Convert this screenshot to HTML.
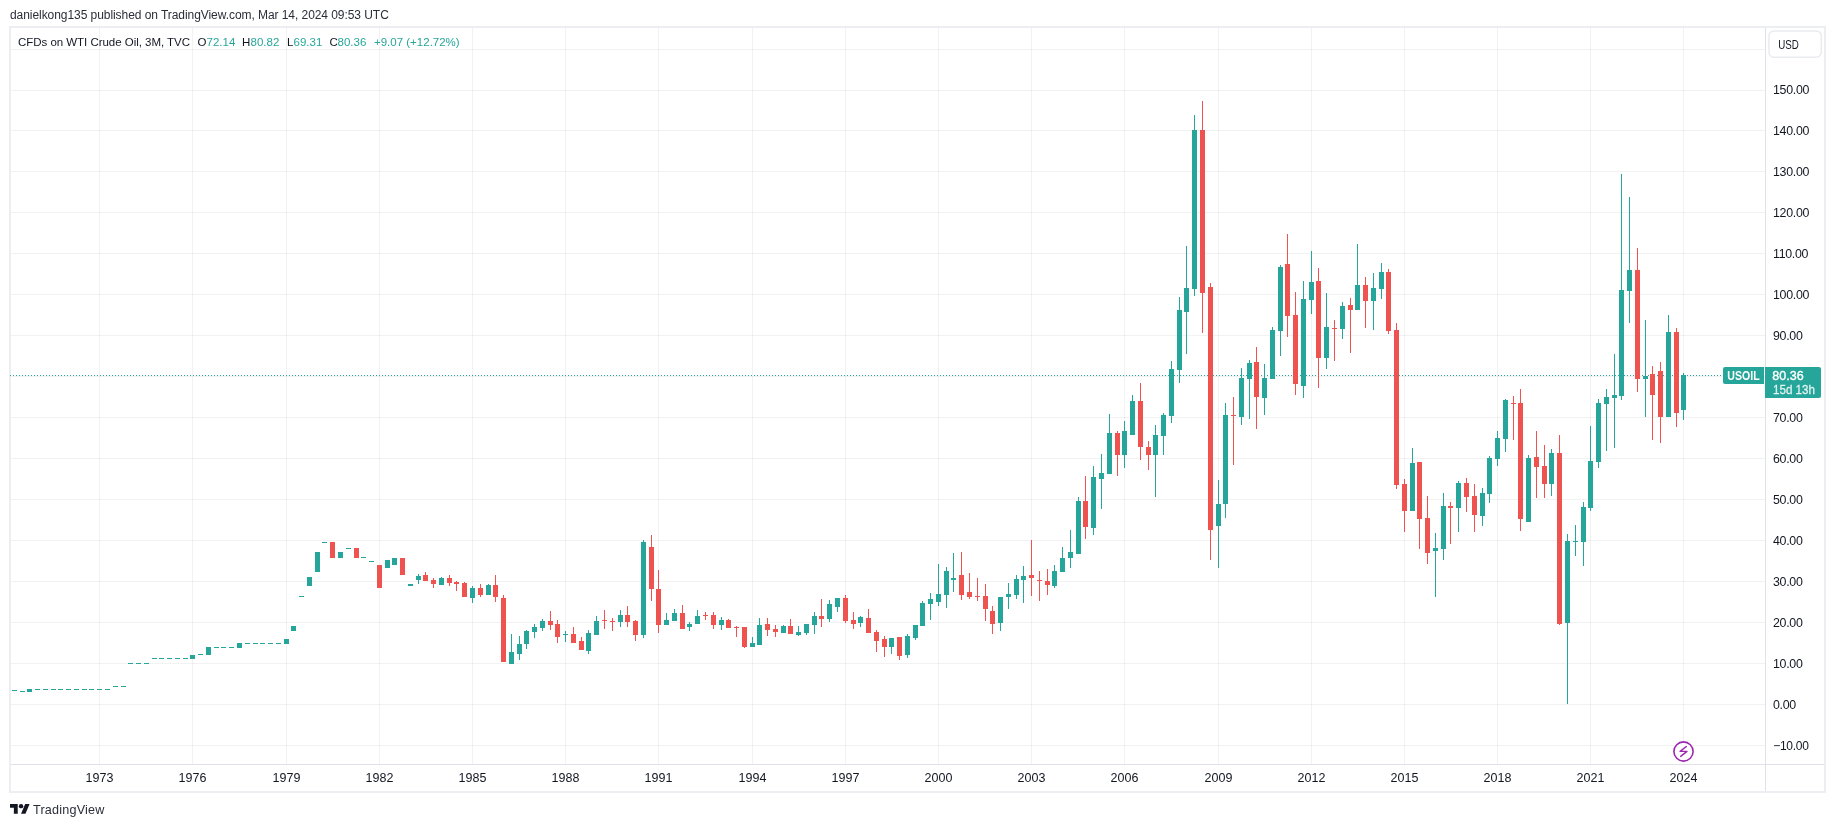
<!DOCTYPE html>
<html><head><meta charset="utf-8"><title>USOIL 3M chart</title>
<style>
html,body{margin:0;padding:0;background:#fff;}
body{width:1835px;height:827px;overflow:hidden;position:relative;font-family:"Liberation Sans",Arial,sans-serif;color:#131722;}
#hdr{position:absolute;left:10px;top:6px;font-size:12px;line-height:18px;color:#2a2e39;white-space:nowrap;letter-spacing:-0.06px;}
svg{position:absolute;left:0;top:0;}
#hdr,#tvt,svg{will-change:transform;}
#logo{position:absolute;left:10.1px;top:804px;}
#tvt{position:absolute;left:33px;top:802px;font-size:12.6px;letter-spacing:0.2px;line-height:16px;color:#2a2e39;white-space:nowrap;}
</style></head><body>
<div id="hdr">danielkong135 published on TradingView.com, Mar 14, 2024 09:53 UTC</div>
<svg width="1835" height="827" viewBox="0 0 1835 827" shape-rendering="crispEdges">
<rect x="10" y="27" width="1815" height="765" fill="none" stroke="#edeef2" stroke-width="2"/>
<path d="M11 49h1754v1h-1754zM11 90h1754v1h-1754zM11 130h1754v1h-1754zM11 171h1754v1h-1754zM11 212h1754v1h-1754zM11 253h1754v1h-1754zM11 294h1754v1h-1754zM11 335h1754v1h-1754zM11 376h1754v1h-1754zM11 417h1754v1h-1754zM11 458h1754v1h-1754zM11 499h1754v1h-1754zM11 540h1754v1h-1754zM11 581h1754v1h-1754zM11 622h1754v1h-1754zM11 663h1754v1h-1754zM11 704h1754v1h-1754zM11 745h1754v1h-1754z" fill="#2a3833" fill-opacity="0.066"/>
<path d="M99 28h1v736h-1zM192 28h1v736h-1zM286 28h1v736h-1zM379 28h1v736h-1zM472 28h1v736h-1zM565 28h1v736h-1zM658 28h1v736h-1zM752 28h1v736h-1zM845 28h1v736h-1zM938 28h1v736h-1zM1031 28h1v736h-1zM1124 28h1v736h-1zM1218 28h1v736h-1zM1311 28h1v736h-1zM1404 28h1v736h-1zM1497 28h1v736h-1zM1590 28h1v736h-1zM1683 28h1v736h-1z" fill="#2a3833" fill-opacity="0.066"/>
<path d="M1765 28h1v763h-1z" fill="#e1e2e8"/>
<path d="M11 764h1813v1h-1813z" fill="#e1e2e8"/>
<path d="M10 375h1v1h-1zM13 375h1v1h-1zM16 375h1v1h-1zM19 375h1v1h-1zM22 375h1v1h-1zM25 375h1v1h-1zM28 375h1v1h-1zM31 375h1v1h-1zM34 375h1v1h-1zM37 375h1v1h-1zM40 375h1v1h-1zM43 375h1v1h-1zM46 375h1v1h-1zM49 375h1v1h-1zM52 375h1v1h-1zM55 375h1v1h-1zM58 375h1v1h-1zM61 375h1v1h-1zM64 375h1v1h-1zM67 375h1v1h-1zM70 375h1v1h-1zM73 375h1v1h-1zM76 375h1v1h-1zM79 375h1v1h-1zM82 375h1v1h-1zM85 375h1v1h-1zM88 375h1v1h-1zM91 375h1v1h-1zM94 375h1v1h-1zM97 375h1v1h-1zM100 375h1v1h-1zM103 375h1v1h-1zM106 375h1v1h-1zM109 375h1v1h-1zM112 375h1v1h-1zM115 375h1v1h-1zM118 375h1v1h-1zM121 375h1v1h-1zM124 375h1v1h-1zM127 375h1v1h-1zM130 375h1v1h-1zM133 375h1v1h-1zM136 375h1v1h-1zM139 375h1v1h-1zM142 375h1v1h-1zM145 375h1v1h-1zM148 375h1v1h-1zM151 375h1v1h-1zM154 375h1v1h-1zM157 375h1v1h-1zM160 375h1v1h-1zM163 375h1v1h-1zM166 375h1v1h-1zM169 375h1v1h-1zM172 375h1v1h-1zM175 375h1v1h-1zM178 375h1v1h-1zM181 375h1v1h-1zM184 375h1v1h-1zM187 375h1v1h-1zM190 375h1v1h-1zM193 375h1v1h-1zM196 375h1v1h-1zM199 375h1v1h-1zM202 375h1v1h-1zM205 375h1v1h-1zM208 375h1v1h-1zM211 375h1v1h-1zM214 375h1v1h-1zM217 375h1v1h-1zM220 375h1v1h-1zM223 375h1v1h-1zM226 375h1v1h-1zM229 375h1v1h-1zM232 375h1v1h-1zM235 375h1v1h-1zM238 375h1v1h-1zM241 375h1v1h-1zM244 375h1v1h-1zM247 375h1v1h-1zM250 375h1v1h-1zM253 375h1v1h-1zM256 375h1v1h-1zM259 375h1v1h-1zM262 375h1v1h-1zM265 375h1v1h-1zM268 375h1v1h-1zM271 375h1v1h-1zM274 375h1v1h-1zM277 375h1v1h-1zM280 375h1v1h-1zM283 375h1v1h-1zM286 375h1v1h-1zM289 375h1v1h-1zM292 375h1v1h-1zM295 375h1v1h-1zM298 375h1v1h-1zM301 375h1v1h-1zM304 375h1v1h-1zM307 375h1v1h-1zM310 375h1v1h-1zM313 375h1v1h-1zM316 375h1v1h-1zM319 375h1v1h-1zM322 375h1v1h-1zM325 375h1v1h-1zM328 375h1v1h-1zM331 375h1v1h-1zM334 375h1v1h-1zM337 375h1v1h-1zM340 375h1v1h-1zM343 375h1v1h-1zM346 375h1v1h-1zM349 375h1v1h-1zM352 375h1v1h-1zM355 375h1v1h-1zM358 375h1v1h-1zM361 375h1v1h-1zM364 375h1v1h-1zM367 375h1v1h-1zM370 375h1v1h-1zM373 375h1v1h-1zM376 375h1v1h-1zM379 375h1v1h-1zM382 375h1v1h-1zM385 375h1v1h-1zM388 375h1v1h-1zM391 375h1v1h-1zM394 375h1v1h-1zM397 375h1v1h-1zM400 375h1v1h-1zM403 375h1v1h-1zM406 375h1v1h-1zM409 375h1v1h-1zM412 375h1v1h-1zM415 375h1v1h-1zM418 375h1v1h-1zM421 375h1v1h-1zM424 375h1v1h-1zM427 375h1v1h-1zM430 375h1v1h-1zM433 375h1v1h-1zM436 375h1v1h-1zM439 375h1v1h-1zM442 375h1v1h-1zM445 375h1v1h-1zM448 375h1v1h-1zM451 375h1v1h-1zM454 375h1v1h-1zM457 375h1v1h-1zM460 375h1v1h-1zM463 375h1v1h-1zM466 375h1v1h-1zM469 375h1v1h-1zM472 375h1v1h-1zM475 375h1v1h-1zM478 375h1v1h-1zM481 375h1v1h-1zM484 375h1v1h-1zM487 375h1v1h-1zM490 375h1v1h-1zM493 375h1v1h-1zM496 375h1v1h-1zM499 375h1v1h-1zM502 375h1v1h-1zM505 375h1v1h-1zM508 375h1v1h-1zM511 375h1v1h-1zM514 375h1v1h-1zM517 375h1v1h-1zM520 375h1v1h-1zM523 375h1v1h-1zM526 375h1v1h-1zM529 375h1v1h-1zM532 375h1v1h-1zM535 375h1v1h-1zM538 375h1v1h-1zM541 375h1v1h-1zM544 375h1v1h-1zM547 375h1v1h-1zM550 375h1v1h-1zM553 375h1v1h-1zM556 375h1v1h-1zM559 375h1v1h-1zM562 375h1v1h-1zM565 375h1v1h-1zM568 375h1v1h-1zM571 375h1v1h-1zM574 375h1v1h-1zM577 375h1v1h-1zM580 375h1v1h-1zM583 375h1v1h-1zM586 375h1v1h-1zM589 375h1v1h-1zM592 375h1v1h-1zM595 375h1v1h-1zM598 375h1v1h-1zM601 375h1v1h-1zM604 375h1v1h-1zM607 375h1v1h-1zM610 375h1v1h-1zM613 375h1v1h-1zM616 375h1v1h-1zM619 375h1v1h-1zM622 375h1v1h-1zM625 375h1v1h-1zM628 375h1v1h-1zM631 375h1v1h-1zM634 375h1v1h-1zM637 375h1v1h-1zM640 375h1v1h-1zM643 375h1v1h-1zM646 375h1v1h-1zM649 375h1v1h-1zM652 375h1v1h-1zM655 375h1v1h-1zM658 375h1v1h-1zM661 375h1v1h-1zM664 375h1v1h-1zM667 375h1v1h-1zM670 375h1v1h-1zM673 375h1v1h-1zM676 375h1v1h-1zM679 375h1v1h-1zM682 375h1v1h-1zM685 375h1v1h-1zM688 375h1v1h-1zM691 375h1v1h-1zM694 375h1v1h-1zM697 375h1v1h-1zM700 375h1v1h-1zM703 375h1v1h-1zM706 375h1v1h-1zM709 375h1v1h-1zM712 375h1v1h-1zM715 375h1v1h-1zM718 375h1v1h-1zM721 375h1v1h-1zM724 375h1v1h-1zM727 375h1v1h-1zM730 375h1v1h-1zM733 375h1v1h-1zM736 375h1v1h-1zM739 375h1v1h-1zM742 375h1v1h-1zM745 375h1v1h-1zM748 375h1v1h-1zM751 375h1v1h-1zM754 375h1v1h-1zM757 375h1v1h-1zM760 375h1v1h-1zM763 375h1v1h-1zM766 375h1v1h-1zM769 375h1v1h-1zM772 375h1v1h-1zM775 375h1v1h-1zM778 375h1v1h-1zM781 375h1v1h-1zM784 375h1v1h-1zM787 375h1v1h-1zM790 375h1v1h-1zM793 375h1v1h-1zM796 375h1v1h-1zM799 375h1v1h-1zM802 375h1v1h-1zM805 375h1v1h-1zM808 375h1v1h-1zM811 375h1v1h-1zM814 375h1v1h-1zM817 375h1v1h-1zM820 375h1v1h-1zM823 375h1v1h-1zM826 375h1v1h-1zM829 375h1v1h-1zM832 375h1v1h-1zM835 375h1v1h-1zM838 375h1v1h-1zM841 375h1v1h-1zM844 375h1v1h-1zM847 375h1v1h-1zM850 375h1v1h-1zM853 375h1v1h-1zM856 375h1v1h-1zM859 375h1v1h-1zM862 375h1v1h-1zM865 375h1v1h-1zM868 375h1v1h-1zM871 375h1v1h-1zM874 375h1v1h-1zM877 375h1v1h-1zM880 375h1v1h-1zM883 375h1v1h-1zM886 375h1v1h-1zM889 375h1v1h-1zM892 375h1v1h-1zM895 375h1v1h-1zM898 375h1v1h-1zM901 375h1v1h-1zM904 375h1v1h-1zM907 375h1v1h-1zM910 375h1v1h-1zM913 375h1v1h-1zM916 375h1v1h-1zM919 375h1v1h-1zM922 375h1v1h-1zM925 375h1v1h-1zM928 375h1v1h-1zM931 375h1v1h-1zM934 375h1v1h-1zM937 375h1v1h-1zM940 375h1v1h-1zM943 375h1v1h-1zM946 375h1v1h-1zM949 375h1v1h-1zM952 375h1v1h-1zM955 375h1v1h-1zM958 375h1v1h-1zM961 375h1v1h-1zM964 375h1v1h-1zM967 375h1v1h-1zM970 375h1v1h-1zM973 375h1v1h-1zM976 375h1v1h-1zM979 375h1v1h-1zM982 375h1v1h-1zM985 375h1v1h-1zM988 375h1v1h-1zM991 375h1v1h-1zM994 375h1v1h-1zM997 375h1v1h-1zM1000 375h1v1h-1zM1003 375h1v1h-1zM1006 375h1v1h-1zM1009 375h1v1h-1zM1012 375h1v1h-1zM1015 375h1v1h-1zM1018 375h1v1h-1zM1021 375h1v1h-1zM1024 375h1v1h-1zM1027 375h1v1h-1zM1030 375h1v1h-1zM1033 375h1v1h-1zM1036 375h1v1h-1zM1039 375h1v1h-1zM1042 375h1v1h-1zM1045 375h1v1h-1zM1048 375h1v1h-1zM1051 375h1v1h-1zM1054 375h1v1h-1zM1057 375h1v1h-1zM1060 375h1v1h-1zM1063 375h1v1h-1zM1066 375h1v1h-1zM1069 375h1v1h-1zM1072 375h1v1h-1zM1075 375h1v1h-1zM1078 375h1v1h-1zM1081 375h1v1h-1zM1084 375h1v1h-1zM1087 375h1v1h-1zM1090 375h1v1h-1zM1093 375h1v1h-1zM1096 375h1v1h-1zM1099 375h1v1h-1zM1102 375h1v1h-1zM1105 375h1v1h-1zM1108 375h1v1h-1zM1111 375h1v1h-1zM1114 375h1v1h-1zM1117 375h1v1h-1zM1120 375h1v1h-1zM1123 375h1v1h-1zM1126 375h1v1h-1zM1129 375h1v1h-1zM1132 375h1v1h-1zM1135 375h1v1h-1zM1138 375h1v1h-1zM1141 375h1v1h-1zM1144 375h1v1h-1zM1147 375h1v1h-1zM1150 375h1v1h-1zM1153 375h1v1h-1zM1156 375h1v1h-1zM1159 375h1v1h-1zM1162 375h1v1h-1zM1165 375h1v1h-1zM1168 375h1v1h-1zM1171 375h1v1h-1zM1174 375h1v1h-1zM1177 375h1v1h-1zM1180 375h1v1h-1zM1183 375h1v1h-1zM1186 375h1v1h-1zM1189 375h1v1h-1zM1192 375h1v1h-1zM1195 375h1v1h-1zM1198 375h1v1h-1zM1201 375h1v1h-1zM1204 375h1v1h-1zM1207 375h1v1h-1zM1210 375h1v1h-1zM1213 375h1v1h-1zM1216 375h1v1h-1zM1219 375h1v1h-1zM1222 375h1v1h-1zM1225 375h1v1h-1zM1228 375h1v1h-1zM1231 375h1v1h-1zM1234 375h1v1h-1zM1237 375h1v1h-1zM1240 375h1v1h-1zM1243 375h1v1h-1zM1246 375h1v1h-1zM1249 375h1v1h-1zM1252 375h1v1h-1zM1255 375h1v1h-1zM1258 375h1v1h-1zM1261 375h1v1h-1zM1264 375h1v1h-1zM1267 375h1v1h-1zM1270 375h1v1h-1zM1273 375h1v1h-1zM1276 375h1v1h-1zM1279 375h1v1h-1zM1282 375h1v1h-1zM1285 375h1v1h-1zM1288 375h1v1h-1zM1291 375h1v1h-1zM1294 375h1v1h-1zM1297 375h1v1h-1zM1300 375h1v1h-1zM1303 375h1v1h-1zM1306 375h1v1h-1zM1309 375h1v1h-1zM1312 375h1v1h-1zM1315 375h1v1h-1zM1318 375h1v1h-1zM1321 375h1v1h-1zM1324 375h1v1h-1zM1327 375h1v1h-1zM1330 375h1v1h-1zM1333 375h1v1h-1zM1336 375h1v1h-1zM1339 375h1v1h-1zM1342 375h1v1h-1zM1345 375h1v1h-1zM1348 375h1v1h-1zM1351 375h1v1h-1zM1354 375h1v1h-1zM1357 375h1v1h-1zM1360 375h1v1h-1zM1363 375h1v1h-1zM1366 375h1v1h-1zM1369 375h1v1h-1zM1372 375h1v1h-1zM1375 375h1v1h-1zM1378 375h1v1h-1zM1381 375h1v1h-1zM1384 375h1v1h-1zM1387 375h1v1h-1zM1390 375h1v1h-1zM1393 375h1v1h-1zM1396 375h1v1h-1zM1399 375h1v1h-1zM1402 375h1v1h-1zM1405 375h1v1h-1zM1408 375h1v1h-1zM1411 375h1v1h-1zM1414 375h1v1h-1zM1417 375h1v1h-1zM1420 375h1v1h-1zM1423 375h1v1h-1zM1426 375h1v1h-1zM1429 375h1v1h-1zM1432 375h1v1h-1zM1435 375h1v1h-1zM1438 375h1v1h-1zM1441 375h1v1h-1zM1444 375h1v1h-1zM1447 375h1v1h-1zM1450 375h1v1h-1zM1453 375h1v1h-1zM1456 375h1v1h-1zM1459 375h1v1h-1zM1462 375h1v1h-1zM1465 375h1v1h-1zM1468 375h1v1h-1zM1471 375h1v1h-1zM1474 375h1v1h-1zM1477 375h1v1h-1zM1480 375h1v1h-1zM1483 375h1v1h-1zM1486 375h1v1h-1zM1489 375h1v1h-1zM1492 375h1v1h-1zM1495 375h1v1h-1zM1498 375h1v1h-1zM1501 375h1v1h-1zM1504 375h1v1h-1zM1507 375h1v1h-1zM1510 375h1v1h-1zM1513 375h1v1h-1zM1516 375h1v1h-1zM1519 375h1v1h-1zM1522 375h1v1h-1zM1525 375h1v1h-1zM1528 375h1v1h-1zM1531 375h1v1h-1zM1534 375h1v1h-1zM1537 375h1v1h-1zM1540 375h1v1h-1zM1543 375h1v1h-1zM1546 375h1v1h-1zM1549 375h1v1h-1zM1552 375h1v1h-1zM1555 375h1v1h-1zM1558 375h1v1h-1zM1561 375h1v1h-1zM1564 375h1v1h-1zM1567 375h1v1h-1zM1570 375h1v1h-1zM1573 375h1v1h-1zM1576 375h1v1h-1zM1579 375h1v1h-1zM1582 375h1v1h-1zM1585 375h1v1h-1zM1588 375h1v1h-1zM1591 375h1v1h-1zM1594 375h1v1h-1zM1597 375h1v1h-1zM1600 375h1v1h-1zM1603 375h1v1h-1zM1606 375h1v1h-1zM1609 375h1v1h-1zM1612 375h1v1h-1zM1615 375h1v1h-1zM1618 375h1v1h-1zM1621 375h1v1h-1zM1624 375h1v1h-1zM1627 375h1v1h-1zM1630 375h1v1h-1zM1633 375h1v1h-1zM1636 375h1v1h-1zM1639 375h1v1h-1zM1642 375h1v1h-1zM1645 375h1v1h-1zM1648 375h1v1h-1zM1651 375h1v1h-1zM1654 375h1v1h-1zM1657 375h1v1h-1zM1660 375h1v1h-1zM1663 375h1v1h-1zM1666 375h1v1h-1zM1669 375h1v1h-1zM1672 375h1v1h-1zM1675 375h1v1h-1zM1678 375h1v1h-1zM1681 375h1v1h-1zM1684 375h1v1h-1zM1687 375h1v1h-1zM1690 375h1v1h-1zM1693 375h1v1h-1zM1696 375h1v1h-1zM1699 375h1v1h-1zM1702 375h1v1h-1zM1705 375h1v1h-1zM1708 375h1v1h-1zM1711 375h1v1h-1zM1714 375h1v1h-1zM1717 375h1v1h-1zM1720 375h1v1h-1z" fill="#26a69a"/>
<path d="M12 690h5v1h-5zM20 691h5v1h-5zM27 689h5v3h-5zM35 689h5v1h-5zM43 689h5v1h-5zM51 689h5v1h-5zM58 689h5v1h-5zM66 689h5v1h-5zM74 689h5v1h-5zM82 689h5v1h-5zM89 689h5v1h-5zM97 689h5v1h-5zM105 689h5v1h-5zM113 686h5v1h-5zM121 686h5v1h-5zM128 663h5v1h-5zM136 663h5v1h-5zM144 663h5v1h-5zM152 658h5v1h-5zM159 658h5v1h-5zM167 658h5v1h-5zM175 658h5v1h-5zM183 658h5v1h-5zM190 655h5v4h-5zM198 654h5v1h-5zM206 647h5v8h-5zM214 647h5v1h-5zM221 647h5v1h-5zM229 647h5v1h-5zM237 643h5v5h-5zM245 643h5v1h-5zM253 643h5v1h-5zM260 643h5v1h-5zM268 643h5v1h-5zM276 643h5v1h-5zM284 639h5v5h-5zM291 626h5v5h-5zM299 596h5v1h-5zM307 577h5v9h-5zM315 552h5v20h-5zM322 542h5v1h-5zM338 552h5v6h-5zM346 548h5v1h-5zM361 557h5v1h-5zM369 561h5v1h-5zM385 560h5v8h-5zM392 558h5v7h-5zM408 584h5v2h-5zM418 574h1v10h-1zM416 576h5v4h-5zM441 577h1v8h-1zM439 578h5v7h-5zM472 586h1v17h-1zM470 588h5v10h-5zM488 584h1v11h-1zM486 585h5v10h-5zM511 634h1v30h-1zM509 652h5v12h-5zM519 636h1v24h-1zM517 644h5v10h-5zM526 630h1v19h-1zM524 631h5v13h-5zM534 624h1v14h-1zM532 627h5v5h-5zM542 619h1v12h-1zM540 621h5v7h-5zM565 631h1v11h-1zM563 634h5v1h-5zM588 630h1v24h-1zM586 633h5v18h-5zM596 616h1v19h-1zM594 621h5v14h-5zM620 610h1v17h-1zM618 615h5v7h-5zM643 540h1v98h-1zM641 542h5v93h-5zM666 613h1v12h-1zM664 620h5v5h-5zM674 609h1v12h-1zM672 613h5v8h-5zM689 622h1v9h-1zM687 624h5v3h-5zM697 610h1v14h-1zM695 616h5v8h-5zM721 617h1v13h-1zM719 620h5v5h-5zM752 637h1v10h-1zM750 643h5v4h-5zM759 618h1v27h-1zM757 625h5v20h-5zM783 625h1v8h-1zM781 626h5v7h-5zM798 626h1v10h-1zM796 632h5v3h-5zM806 624h1v11h-1zM804 624h5v9h-5zM814 612h1v22h-1zM812 616h5v9h-5zM829 600h1v22h-1zM827 604h5v15h-5zM837 598h1v14h-1zM835 598h5v9h-5zM860 616h1v11h-1zM858 617h5v6h-5zM891 638h1v16h-1zM889 638h5v9h-5zM907 634h1v24h-1zM905 636h5v19h-5zM915 625h1v15h-1zM913 625h5v13h-5zM922 601h1v25h-1zM920 603h5v23h-5zM930 593h1v27h-1zM928 599h5v5h-5zM938 564h1v42h-1zM936 594h5v8h-5zM946 567h1v41h-1zM944 571h5v24h-5zM953 553h1v39h-1zM951 578h5v2h-5zM1000 597h1v34h-1zM998 597h5v26h-5zM1008 583h1v26h-1zM1006 594h5v3h-5zM1016 575h1v24h-1zM1014 579h5v16h-5zM1023 566h1v37h-1zM1021 576h5v4h-5zM1054 565h1v23h-1zM1052 571h5v15h-5zM1062 547h1v25h-1zM1060 558h5v14h-5zM1070 530h1v38h-1zM1068 552h5v6h-5zM1078 497h1v57h-1zM1076 501h5v53h-5zM1093 466h1v69h-1zM1091 477h5v51h-5zM1101 454h1v55h-1zM1099 473h5v6h-5zM1109 414h1v60h-1zM1107 433h5v41h-5zM1124 421h1v47h-1zM1122 431h5v24h-5zM1132 395h1v40h-1zM1130 401h5v34h-5zM1155 425h1v72h-1zM1153 435h5v20h-5zM1163 413h1v42h-1zM1161 415h5v21h-5zM1171 361h1v62h-1zM1169 369h5v47h-5zM1179 297h1v86h-1zM1177 310h5v60h-5zM1186 246h1v108h-1zM1184 288h5v24h-5zM1194 115h1v181h-1zM1192 130h5v159h-5zM1218 480h1v88h-1zM1216 504h5v22h-5zM1225 403h1v115h-1zM1223 415h5v89h-5zM1241 368h1v57h-1zM1239 378h5v39h-5zM1249 360h1v59h-1zM1247 363h5v16h-5zM1264 364h1v51h-1zM1262 378h5v20h-5zM1272 327h1v52h-1zM1270 330h5v49h-5zM1280 265h1v91h-1zM1278 267h5v64h-5zM1303 281h1v117h-1zM1301 299h5v87h-5zM1311 251h1v63h-1zM1309 282h5v18h-5zM1326 293h1v76h-1zM1324 327h5v31h-5zM1342 302h1v37h-1zM1340 306h5v23h-5zM1357 244h1v66h-1zM1355 285h5v25h-5zM1373 273h1v57h-1zM1371 288h5v13h-5zM1381 263h1v36h-1zM1379 272h5v17h-5zM1412 448h1v63h-1zM1410 463h5v48h-5zM1435 533h1v64h-1zM1433 548h5v3h-5zM1443 493h1v67h-1zM1441 506h5v43h-5zM1458 481h1v51h-1zM1456 483h5v25h-5zM1482 488h1v38h-1zM1480 493h5v23h-5zM1489 456h1v47h-1zM1487 458h5v36h-5zM1497 431h1v35h-1zM1495 438h5v21h-5zM1505 399h1v53h-1zM1503 400h5v39h-5zM1528 455h1v67h-1zM1526 458h5v64h-5zM1551 449h1v47h-1zM1549 453h5v31h-5zM1567 534h1v170h-1zM1565 541h5v82h-5zM1575 525h1v31h-1zM1573 541h5v1h-5zM1583 502h1v64h-1zM1581 507h5v35h-5zM1590 426h1v85h-1zM1588 461h5v47h-5zM1598 399h1v69h-1zM1596 403h5v59h-5zM1606 389h1v62h-1zM1604 397h5v7h-5zM1614 354h1v94h-1zM1612 395h5v3h-5zM1621 174h1v226h-1zM1619 290h5v106h-5zM1629 197h1v126h-1zM1627 270h5v21h-5zM1645 320h1v97h-1zM1643 376h5v3h-5zM1668 315h1v102h-1zM1666 332h5v85h-5zM1683 373h1v47h-1zM1681 375h5v35h-5z" fill="#26a69a"/>
<path d="M330 542h5v16h-5zM354 548h5v10h-5zM377 565h5v23h-5zM400 558h5v17h-5zM425 572h1v9h-1zM423 575h5v6h-5zM433 578h1v10h-1zM431 580h5v4h-5zM449 575h1v11h-1zM447 578h5v5h-5zM456 581h1v10h-1zM454 582h5v2h-5zM464 582h1v15h-1zM462 583h5v14h-5zM480 584h1v13h-1zM478 588h5v7h-5zM495 575h1v27h-1zM493 585h5v12h-5zM503 595h1v67h-1zM501 598h5v64h-5zM550 611h1v19h-1zM548 621h5v4h-5zM557 620h1v23h-1zM555 624h5v13h-5zM573 627h1v16h-1zM571 634h5v9h-5zM581 637h1v13h-1zM579 641h5v9h-5zM604 610h1v19h-1zM602 620h5v1h-5zM612 618h1v13h-1zM610 621h5v1h-5zM627 606h1v21h-1zM625 615h5v7h-5zM635 620h1v21h-1zM633 621h5v14h-5zM651 535h1v66h-1zM649 547h5v42h-5zM658 570h1v63h-1zM656 589h5v36h-5zM682 605h1v24h-1zM680 613h5v16h-5zM705 612h1v8h-1zM703 615h5v1h-5zM713 612h1v17h-1zM711 615h5v10h-5zM728 619h1v9h-1zM726 620h5v8h-5zM736 626h1v11h-1zM734 627h5v1h-5zM744 627h1v21h-1zM742 627h5v20h-5zM767 618h1v18h-1zM765 624h5v6h-5zM775 625h1v12h-1zM773 629h5v3h-5zM790 619h1v15h-1zM788 626h5v8h-5zM821 599h1v28h-1zM819 616h5v3h-5zM845 595h1v28h-1zM843 598h5v23h-5zM853 612h1v17h-1zM851 620h5v4h-5zM868 609h1v24h-1zM866 618h5v15h-5zM876 630h1v22h-1zM874 632h5v9h-5zM884 636h1v21h-1zM882 639h5v8h-5zM899 637h1v23h-1zM897 637h5v19h-5zM961 552h1v48h-1zM959 575h5v20h-5zM969 573h1v26h-1zM967 592h5v5h-5zM977 578h1v23h-1zM975 596h5v1h-5zM985 584h1v37h-1zM983 596h5v13h-5zM992 606h1v28h-1zM990 611h5v13h-5zM1031 540h1v56h-1zM1029 575h5v3h-5zM1039 571h1v30h-1zM1037 580h5v1h-5zM1047 569h1v26h-1zM1045 581h5v4h-5zM1085 476h1v63h-1zM1083 501h5v26h-5zM1117 431h1v45h-1zM1115 433h5v22h-5zM1140 383h1v77h-1zM1138 401h5v46h-5zM1148 441h1v29h-1zM1146 447h5v8h-5zM1202 101h1v232h-1zM1200 130h5v163h-5zM1210 283h1v277h-1zM1208 287h5v243h-5zM1233 397h1v68h-1zM1231 415h5v1h-5zM1256 347h1v82h-1zM1254 362h5v35h-5zM1287 234h1v103h-1zM1285 264h5v52h-5zM1295 292h1v103h-1zM1293 315h5v69h-5zM1318 268h1v120h-1zM1316 281h5v77h-5zM1334 320h1v41h-1zM1332 328h5v1h-5zM1350 298h1v55h-1zM1348 305h5v5h-5zM1365 277h1v51h-1zM1363 285h5v16h-5zM1388 269h1v65h-1zM1386 272h5v59h-5zM1396 323h1v166h-1zM1394 330h5v155h-5zM1404 479h1v53h-1zM1402 484h5v27h-5zM1419 462h1v87h-1zM1417 462h5v57h-5zM1427 496h1v68h-1zM1425 518h5v35h-5zM1450 502h1v42h-1zM1448 506h5v2h-5zM1466 478h1v34h-1zM1464 483h5v14h-5zM1474 484h1v48h-1zM1472 496h5v19h-5zM1513 396h1v44h-1zM1511 403h5v1h-5zM1520 389h1v142h-1zM1518 403h5v116h-5zM1536 431h1v67h-1zM1534 457h5v10h-5zM1544 445h1v53h-1zM1542 466h5v18h-5zM1559 435h1v190h-1zM1557 453h5v171h-5zM1637 248h1v144h-1zM1635 270h5v109h-5zM1652 366h1v74h-1zM1650 374h5v21h-5zM1660 362h1v81h-1zM1658 371h5v46h-5zM1676 328h1v99h-1zM1674 332h5v81h-5z" fill="#ef5350"/>
<g font-family="Liberation Sans, Arial, sans-serif" font-size="12.5px" fill="#131722" shape-rendering="auto">
<text x="99.5" y="782.2" text-anchor="middle">1973</text><text x="192.5" y="782.2" text-anchor="middle">1976</text><text x="286.5" y="782.2" text-anchor="middle">1979</text><text x="379.5" y="782.2" text-anchor="middle">1982</text><text x="472.5" y="782.2" text-anchor="middle">1985</text><text x="565.5" y="782.2" text-anchor="middle">1988</text><text x="658.5" y="782.2" text-anchor="middle">1991</text><text x="752.5" y="782.2" text-anchor="middle">1994</text><text x="845.5" y="782.2" text-anchor="middle">1997</text><text x="938.5" y="782.2" text-anchor="middle">2000</text><text x="1031.5" y="782.2" text-anchor="middle">2003</text><text x="1124.5" y="782.2" text-anchor="middle">2006</text><text x="1218.5" y="782.2" text-anchor="middle">2009</text><text x="1311.5" y="782.2" text-anchor="middle">2012</text><text x="1404.5" y="782.2" text-anchor="middle">2015</text><text x="1497.5" y="782.2" text-anchor="middle">2018</text><text x="1590.5" y="782.2" text-anchor="middle">2021</text><text x="1683.5" y="782.2" text-anchor="middle">2024</text>
</g>
<g font-family="Liberation Sans, Arial, sans-serif" font-size="12.4px" letter-spacing="-0.3" fill="#131722" shape-rendering="auto">
<text x="1773" y="94.2">150.00</text><text x="1773" y="135.2">140.00</text><text x="1773" y="176.2">130.00</text><text x="1773" y="217.2">120.00</text><text x="1773" y="258.2">110.00</text><text x="1773" y="299.2">100.00</text><text x="1773" y="340.2">90.00</text><text x="1773" y="381.2">80.00</text><text x="1773" y="422.2">70.00</text><text x="1773" y="463.2">60.00</text><text x="1773" y="504.2">50.00</text><text x="1773" y="545.2">40.00</text><text x="1773" y="586.2">30.00</text><text x="1773" y="627.2">20.00</text><text x="1773" y="668.2">10.00</text><text x="1773" y="709.2">0.00</text><text x="1773.2" y="750.2" textLength="35.4" lengthAdjust="spacingAndGlyphs">−10.00</text>
</g>
<g shape-rendering="auto">
<rect x="1768.9" y="30.9" width="52.4" height="26.4" rx="5" fill="#fff" stroke="#e9ebf0" stroke-width="1.5"/>
<text x="1778.2" y="48.8" font-family="Liberation Sans, Arial, sans-serif" font-size="12.6px" fill="#131722" textLength="20.6" lengthAdjust="spacingAndGlyphs">USD</text>
</g>
<g font-family="Liberation Sans, Arial, sans-serif" font-size="11.5px" shape-rendering="auto">
<text x="18" y="45.8" fill="#131722" textLength="172">CFDs on WTI Crude Oil, 3M, TVC</text>
<text x="197.5" y="45.8" fill="#131722">O</text><text x="206.5" y="45.8" fill="#26a69a">72.14</text>
<text x="242" y="45.8" fill="#131722">H</text><text x="250.5" y="45.8" fill="#26a69a">80.82</text>
<text x="287" y="45.8" fill="#131722">L</text><text x="293.5" y="45.8" fill="#26a69a">69.31</text>
<text x="329.5" y="45.8" fill="#131722">C</text><text x="337.5" y="45.8" fill="#26a69a">80.36</text>
<text x="374" y="45.8" fill="#26a69a">+9.07 (+12.72%)</text>
</g>
<g shape-rendering="auto">
<path d="M1723 369a2 2 0 0 1 2-2h39v17h-39a2 2 0 0 1-2-2z" fill="#26a69a"/>
<path d="M1765 367h54a2 2 0 0 1 2 2v27a2 2 0 0 1-2 2h-54z" fill="#26a69a"/>
<text x="1727.3" y="380" font-family="Liberation Sans, Arial, sans-serif" font-size="12.3px" font-weight="bold" fill="#fff" textLength="32.3" lengthAdjust="spacingAndGlyphs">USOIL</text>
<text x="1772.3" y="380.2" font-family="Liberation Sans, Arial, sans-serif" font-size="12.5px" fill="#fff" stroke="#fff" stroke-width="0.35">80.36</text>
<text x="1773" y="394.4" font-family="Liberation Sans, Arial, sans-serif" font-size="12.3px" fill="#fff" fill-opacity="0.8" stroke="#fff" stroke-opacity="0.8" stroke-width="0.3" textLength="42" lengthAdjust="spacingAndGlyphs">15d 13h</text>
</g>
<g shape-rendering="auto">
<circle cx="1683.5" cy="751.5" r="9.6" fill="#fff" stroke="#9c27b0" stroke-width="1.6"/>
<path d="M1686.3 746.5L1680.1 751.4H1687L1680.7 756.4" fill="none" stroke="#9c27b0" stroke-width="1.4" stroke-linejoin="round" stroke-linecap="round"/>
</g>
</svg>
<svg id="logo" width="19.6" height="9.8" viewBox="0 4 35.5 18" preserveAspectRatio="none"><g><path d="M14 22H7V11H0V4h14v18zM28 22h-8l7.5-18h8L28 22z" fill="#131722"/><circle cx="20" cy="8" r="4" fill="#131722"/></g></svg>
<div id="tvt">TradingView</div>
</body></html>
